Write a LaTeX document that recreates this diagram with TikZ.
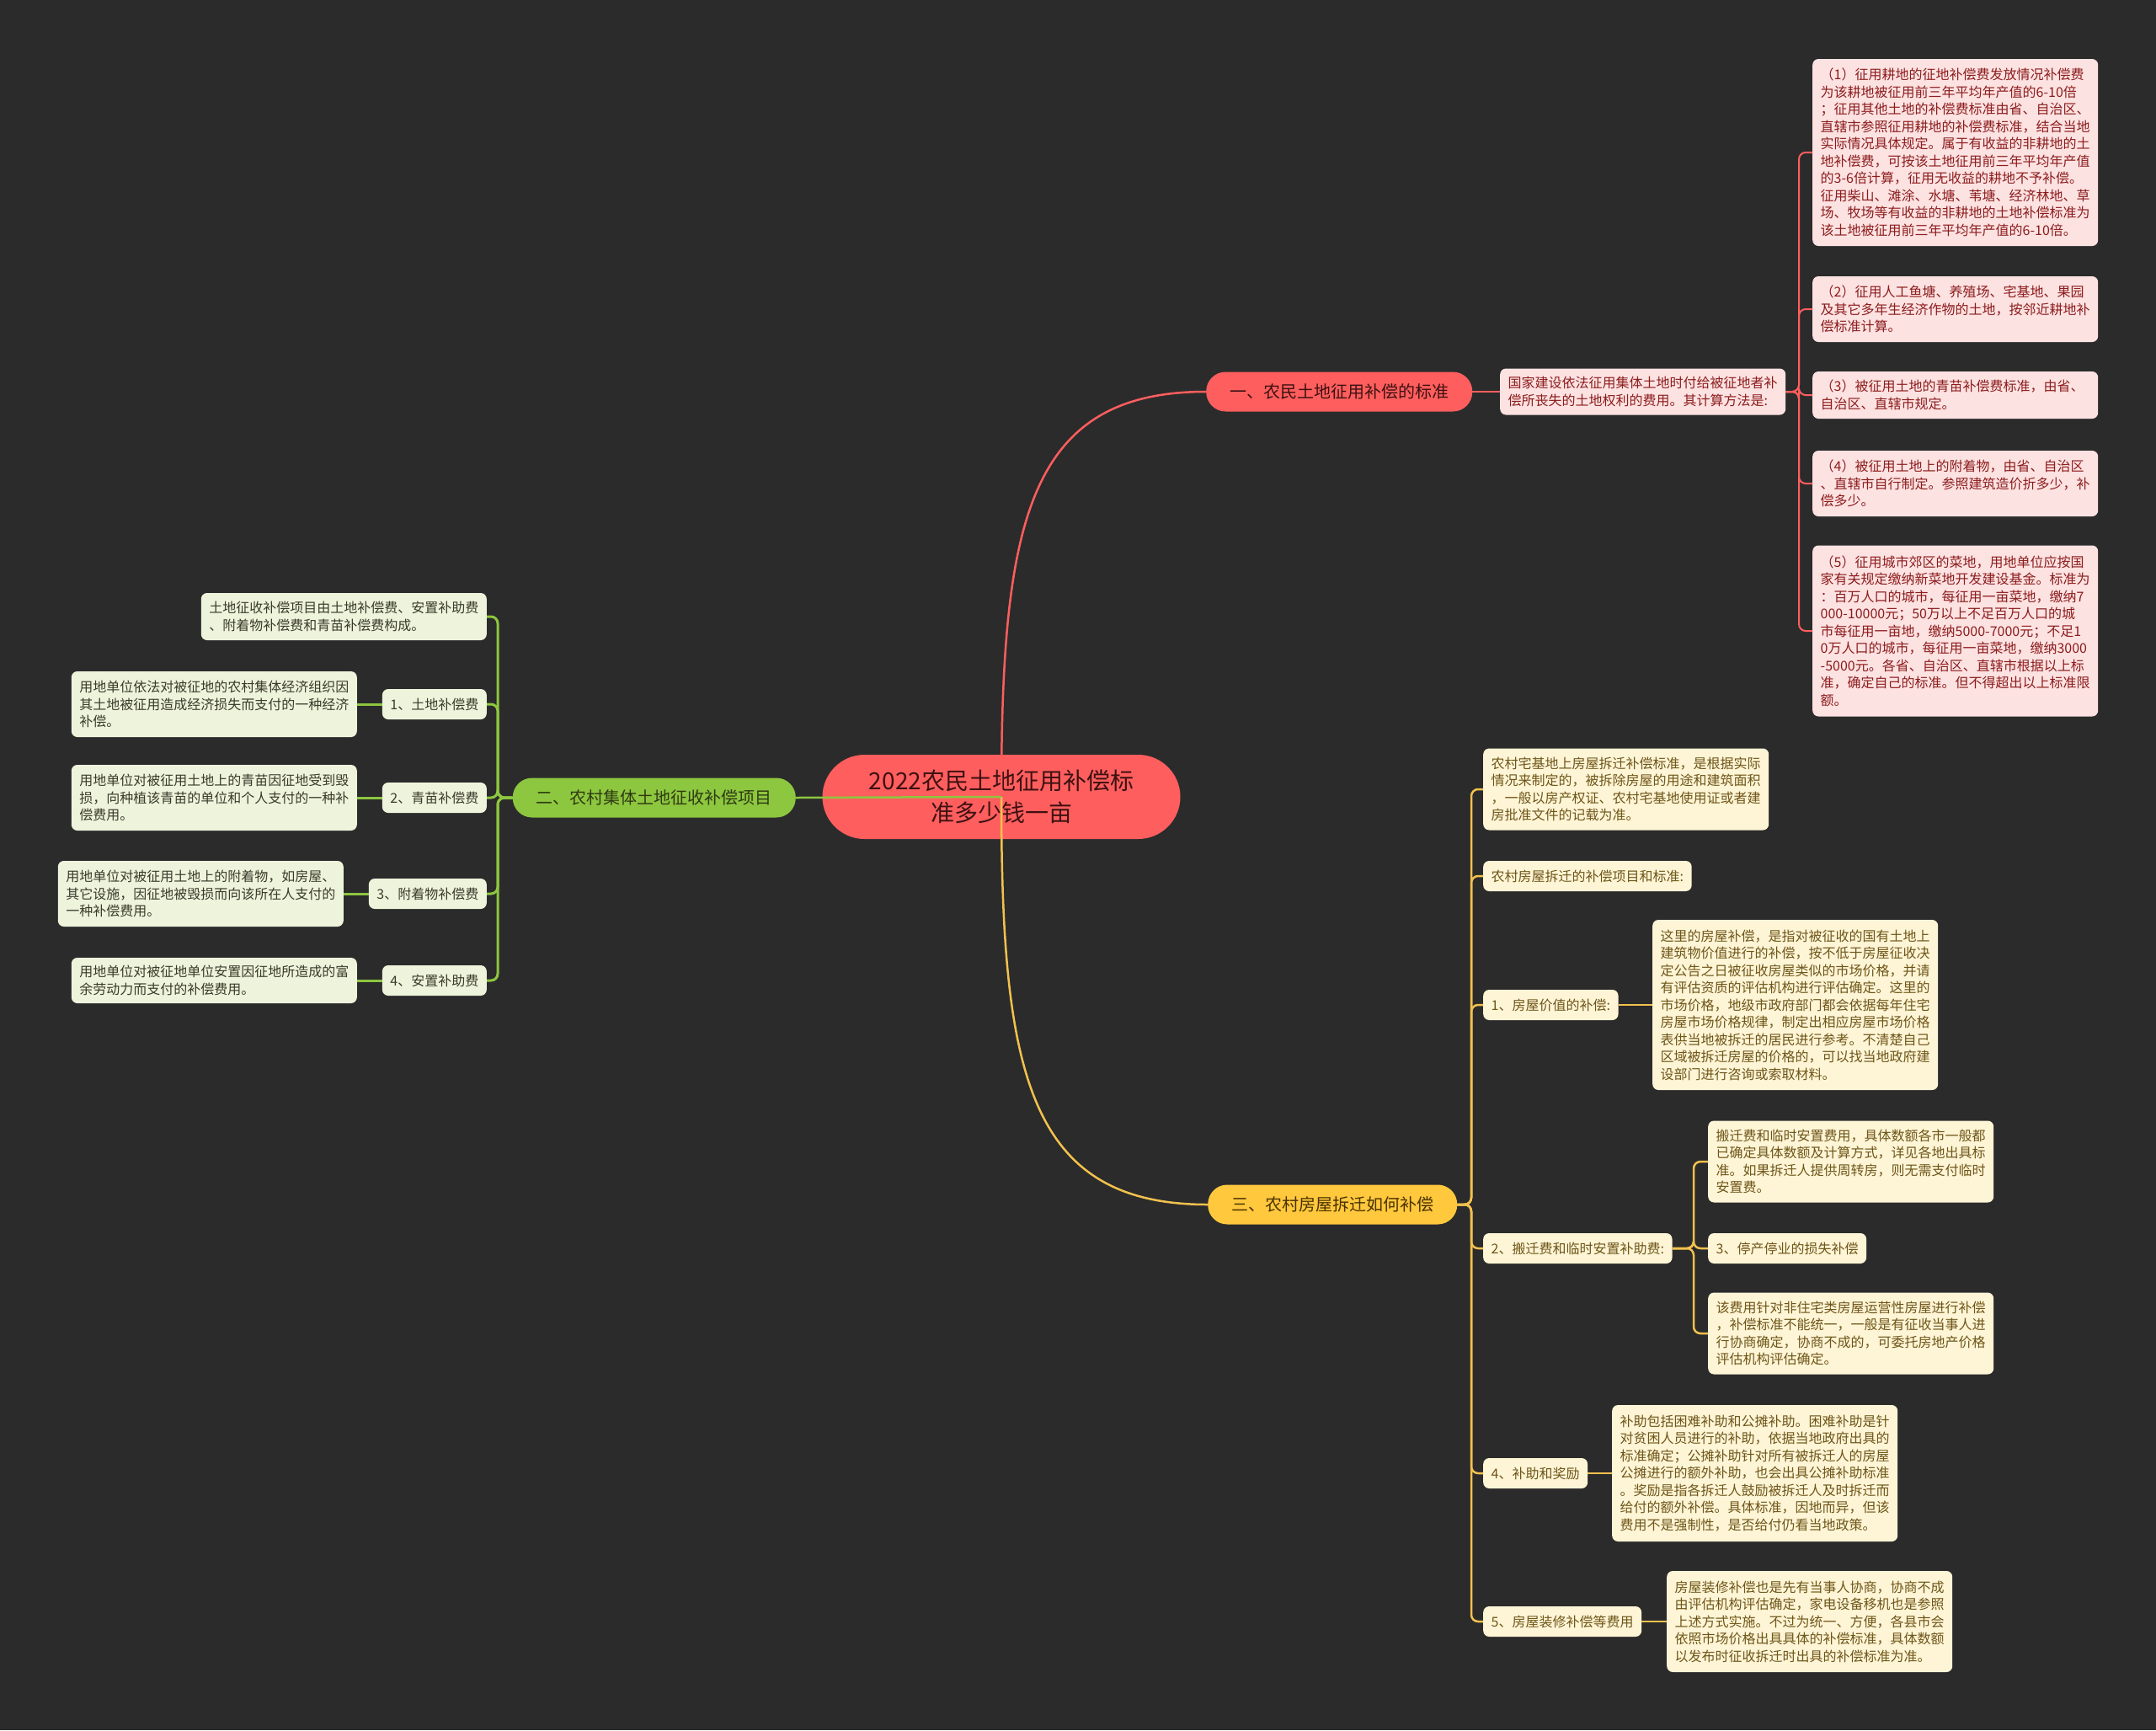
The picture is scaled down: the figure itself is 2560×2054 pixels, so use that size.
\documentclass[tikz,border=0pt]{standalone}
\usepackage{fontspec}
\setmainfont{Noto Sans CJK SC}
\definecolor{bg}{HTML}{2B2B2B}
\definecolor{redmain}{HTML}{FF5E5E}
\definecolor{redtext}{HTML}{3D1111}
\definecolor{pinkfill}{HTML}{FDE2E2}
\definecolor{pinktext}{HTML}{8C1C1C}
\definecolor{greenmain}{HTML}{8DC63F}
\definecolor{greentext}{HTML}{2E3B12}
\definecolor{greenfill}{HTML}{EEF4DC}
\definecolor{greenboxtext}{HTML}{3A3A2A}
\definecolor{yellowmain}{HTML}{FFC83D}
\definecolor{yellowtext}{HTML}{4A3300}
\definecolor{yellowfill}{HTML}{FEF5D6}
\definecolor{yellowboxtext}{HTML}{6E5518}
\definecolor{yellowline}{HTML}{F2C14E}
\begin{document}
\begin{tikzpicture}[x=1pt,y=-1pt,
  every node/.style={font=\fontsize{16}{20.5}\selectfont, inner xsep=9.5pt, inner ysep=4pt},
  pinkbox/.style={fill=pinkfill, text=pinktext, rounded corners=7pt, align=left, text width=320pt, anchor=west},
  greenbox/.style={fill=greenfill, text=greenboxtext, rounded corners=7pt, align=left, text width=320pt, anchor=east},
  greenlabel/.style={fill=greenfill, text=greenboxtext, rounded corners=7pt, minimum height=36pt, anchor=east},
  yellowbox/.style={fill=yellowfill, text=yellowboxtext, rounded corners=7pt, align=left, text width=320pt, anchor=west},
  yellowlabel/.style={fill=yellowfill, text=yellowboxtext, rounded corners=7pt, minimum height=36pt, anchor=west},
  mainbranch/.style={font=\fontsize{20}{24}\selectfont, inner xsep=28pt, minimum height=47pt, rounded corners=23pt},
  redline/.style={draw=redmain, line width=2.5pt},
  redthin/.style={draw=redmain, line width=2pt, rounded corners=8pt},
  greenline/.style={draw=greenmain, line width=3pt, rounded corners=8pt},
  yline/.style={draw=yellowline, line width=2.5pt, rounded corners=8pt},
  ]
\fill[bg] (0,0) rectangle (2560,2054);
\useasboundingbox (0,0) rectangle (2560,2054);

% center
\node[fill=redmain, text=redtext, font=\fontsize{28}{37.5}\selectfont, align=center,
  minimum width=425pt, minimum height=100pt, rounded corners=50pt] (c) at (1189,946)
  {2022农民土地征用补偿标\\准多少钱一亩};

% branch 1
\node[mainbranch, fill=redmain, text=redtext, anchor=west] (b1) at (1432,465) {一、农民土地征用补偿的标准};
\node[pinkbox, minimum height=55pt] (d1) at (1781,465) {国家建设依法征用集体土地时付给被征地者补\\偿所丧失的土地权利的费用。其计算方法是:};
\node[pinkbox, minimum height=222pt] (p1) at (2152,181) {（1）征用耕地的征地补偿费发放情况补偿费\\为该耕地被征用前三年平均年产值的6-10倍\\；征用其他土地的补偿费标准由省、自治区、\\直辖市参照征用耕地的补偿费标准，结合当地\\实际情况具体规定。属于有收益的非耕地的土\\地补偿费，可按该土地征用前三年平均年产值\\的3-6倍计算，征用无收益的耕地不予补偿。\\征用柴山、滩涂、水塘、苇塘、经济林地、草\\场、牧场等有收益的非耕地的土地补偿标准为\\该土地被征用前三年平均年产值的6-10倍。};
\node[pinkbox, minimum height=78pt] (p2) at (2152,367) {（2）征用人工鱼塘、养殖场、宅基地、果园\\及其它多年生经济作物的土地，按邻近耕地补\\偿标准计算。};
\node[pinkbox, minimum height=56pt] (p3) at (2152,469) {（3）被征用土地的青苗补偿费标准，由省、\\自治区、直辖市规定。};
\node[pinkbox, minimum height=78pt] (p4) at (2152,574) {（4）被征用土地上的附着物，由省、自治区\\、直辖市自行制定。参照建筑造价折多少，补\\偿多少。};
\node[pinkbox, minimum height=203pt] (p5) at (2152,749) {（5）征用城市郊区的菜地，用地单位应按国\\家有关规定缴纳新菜地开发建设基金。标准为\\：百万人口的城市，每征用一亩菜地，缴纳7\\000-10000元；50万以上不足百万人口的城\\市每征用一亩地，缴纳5000-7000元；不足1\\0万人口的城市，每征用一亩菜地，缴纳3000\\-5000元。各省、自治区、直辖市根据以上标\\准，确定自己的标准。但不得超出以上标准限\\额。};

% branch 2 (green)
\node[mainbranch, fill=greenmain, text=greentext, anchor=east] (b2) at (945,947) {二、农村集体土地征收补偿项目};
\node[greenbox, minimum height=56pt] (g0) at (578,732) {土地征收补偿项目由土地补偿费、安置补助费\\、附着物补偿费和青苗补偿费构成。};
\node[greenlabel] (g1) at (578,836) {1、土地补偿费};
\node[greenbox, minimum height=78pt] (g1d) at (424,836) {用地单位依法对被征地的农村集体经济组织因\\其土地被征用造成经济损失而支付的一种经济\\补偿。};
\node[greenlabel] (g2) at (578,947) {2、青苗补偿费};
\node[greenbox, minimum height=78pt] (g2d) at (424,947) {用地单位对被征用土地上的青苗因征地受到毁\\损，向种植该青苗的单位和个人支付的一种补\\偿费用。};
\node[greenlabel] (g3) at (578,1061) {3、附着物补偿费};
\node[greenbox, minimum height=78pt] (g3d) at (408,1061) {用地单位对被征用土地上的附着物，如房屋、\\其它设施，因征地被毁损而向该所在人支付的\\一种补偿费用。};
\node[greenlabel] (g4) at (578,1164) {4、安置补助费};
\node[greenbox, minimum height=54pt] (g4d) at (424,1164) {用地单位对被征地单位安置因征地所造成的富\\余劳动力而支付的补偿费用。};

% branch 3 (yellow)
\node[mainbranch, fill=yellowmain, text=yellowtext, anchor=west] (b3) at (1434,1430) {三、农村房屋拆迁如何补偿};
\node[yellowbox, minimum height=97pt] (ya) at (1761,937) {农村宅基地上房屋拆迁补偿标准，是根据实际\\情况来制定的，被拆除房屋的用途和建筑面积\\，一般以房产权证、农村宅基地使用证或者建\\房批准文件的记载为准。};
\node[yellowlabel] (yb) at (1761,1040) {农村房屋拆迁的补偿项目和标准:};
\node[yellowlabel] (yc) at (1761,1193) {1、房屋价值的补偿:};
\node[yellowbox, minimum height=202pt] (ycd) at (1962,1193) {这里的房屋补偿，是指对被征收的国有土地上\\建筑物价值进行的补偿，按不低于房屋征收决\\定公告之日被征收房屋类似的市场价格，并请\\有评估资质的评估机构进行评估确定。这里的\\市场价格，地级市政府部门都会依据每年住宅\\房屋市场价格规律，制定出相应房屋市场价格\\表供当地被拆迁的居民进行参考。不清楚自己\\区域被拆迁房屋的价格的，可以找当地政府建\\设部门进行咨询或索取材料。};
\node[yellowlabel] (yd) at (1761,1482) {2、搬迁费和临时安置补助费:};
\node[yellowbox, minimum height=97pt] (yd1) at (2028,1379) {搬迁费和临时安置费用，具体数额各市一般都\\已确定具体数额及计算方式，详见各地出具标\\准。如果拆迁人提供周转房，则无需支付临时\\安置费。};
\node[yellowlabel] (yd2) at (2028,1482) {3、停产停业的损失补偿};
\node[yellowbox, minimum height=97pt] (yd3) at (2028,1583) {该费用针对非住宅类房屋运营性房屋进行补偿\\，补偿标准不能统一，一般是有征收当事人进\\行协商确定，协商不成的，可委托房地产价格\\评估机构评估确定。};
\node[yellowlabel] (ye) at (1761,1749) {4、补助和奖励};
\node[yellowbox, minimum height=162pt] (yed) at (1914,1749) {补助包括困难补助和公摊补助。困难补助是针\\对贫困人员进行的补助，依据当地政府出具的\\标准确定；公摊补助针对所有被拆迁人的房屋\\公摊进行的额外补助，也会出具公摊补助标准\\。奖励是指各拆迁人鼓励被拆迁人及时拆迁而\\给付的额外补偿。具体标准，因地而异，但该\\费用不是强制性，是否给付仍看当地政策。};
\node[yellowlabel] (yf) at (1761,1925) {5、房屋装修补偿等费用};
\node[yellowbox, minimum height=120pt] (yfd) at (1979,1925) {房屋装修补偿也是先有当事人协商，协商不成\\由评估机构评估确定，家电设备移机也是参照\\上述方式实施。不过为统一、方便，各县市会\\依照市场价格出具具体的补偿标准，具体数额\\以发布时征收拆迁时出具的补偿标准为准。};

% main connectors
\draw[redline] (c.center) .. controls (1189,620) and (1220,465) .. (b1.west);
\draw[draw=yellowline, line width=2.5pt] (c.center) .. controls (1189,1272) and (1220,1430) .. (b3.west);
\draw[draw=greenmain, line width=2.5pt] (c.center) -- (b2.east);

% branch 1 connectors
\draw[redline] (b1.east) -- (d1.west);
\foreach \p in {p1,p2,p3,p4,p5} {
  \draw[redthin] (d1.east) -- (2136,465) |- (\p.west);
}

% branch 2 connectors
\foreach \g in {g0,g1,g2,g3,g4} {
  \draw[greenline] (b2.west) -- (591,947) |- (\g.east);
}
\draw[greenline] (g1.west) -- (g1d.east);
\draw[greenline] (g2.west) -- (g2d.east);
\draw[greenline] (g3.west) -- (g3d.east);
\draw[greenline] (g4.west) -- (g4d.east);

% branch 3 connectors
\foreach \y in {ya,yb,yc,yd,ye,yf} {
  \draw[yline] (b3.east) -- (1747,1430) |- (\y.west);
}
\draw[yline] (yc.east) -- (ycd.west);
\draw[yline] (ye.east) -- (yed.west);
\draw[yline] (yf.east) -- (yfd.west);
\foreach \y in {yd1,yd2,yd3} {
  \draw[yline] (yd.east) -- (2011,1482) |- (\y.west);
}
\end{tikzpicture}
\end{document}
